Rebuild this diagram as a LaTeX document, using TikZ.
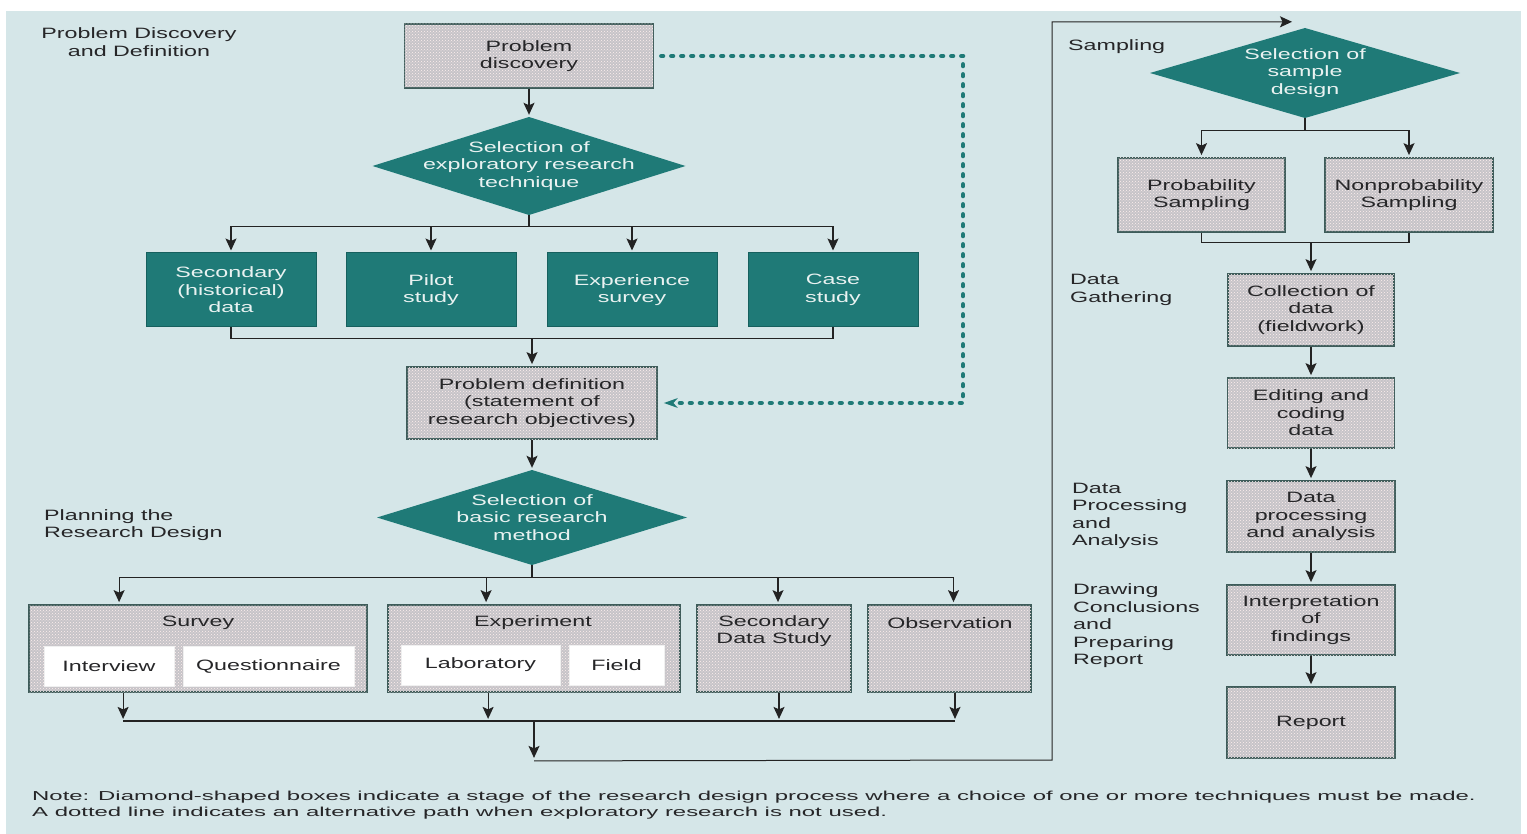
\documentclass[tikz,border=0pt]{standalone}
\usepackage{fontspec}
\setmainfont{Liberation Sans}[FakeStretch=1.55]
\newfontfamily\notefont{Liberation Sans}[FakeStretch=1.84]
\usetikzlibrary{arrows.meta,calc,patterns}

\definecolor{bgblue}{RGB}{213,230,232}
\definecolor{tealfill}{RGB}{31,122,119}
\definecolor{tealedge}{RGB}{22,96,94}
\definecolor{boxgray}{RGB}{198,196,200}
\definecolor{boxedge}{RGB}{62,92,90}
\definecolor{inktext}{RGB}{38,38,40}
\definecolor{linecol}{RGB}{35,35,35}

\begin{document}
\begin{tikzpicture}[x=1pt,y=-1pt,
  every node/.style={font=\fontsize{15}{17.5}\selectfont, align=center, inner sep=0pt, text=inktext},
  graybox/.style={draw=boxedge, line width=1.8pt, fill=boxgray,
    postaction={pattern=crosshatch dots, pattern color=white!75!pink}},
  tealbox/.style={draw=tealedge, line width=1pt, fill=tealfill, text=white!90!tealfill},
  choice/.style={rectangle, text=white!90!tealfill,
    path picture={\fill[tealfill] (path picture bounding box.north) -- (path picture bounding box.east)
      -- (path picture bounding box.south) -- (path picture bounding box.west) -- cycle;}},
  innerbox/.style={fill=white, draw=white!88!gray, line width=0.6pt, minimum height=40},
  stagelabel/.style={align=left, anchor=west},
  line/.style={draw=linecol, line width=1.2pt},
  arr/.style={line, -{Stealth[length=12pt,width=11pt,inset=2.5pt]}, shorten >=2pt},
  dotline/.style={draw=tealfill, line width=4.6pt, line cap=round, dash pattern=on 1.6pt off 8.4pt,
    -{Stealth[length=14pt,width=10pt,inset=4.5pt,line width=0pt]}, shorten <=7pt, shorten >=6pt}
]
\useasboundingbox (0,0) rectangle (1527,834);
\fill[white] (0,0) rectangle (1527,834);
\fill[bgblue] (6,11) rectangle (1521,834);

% ---------- problem discovery and definition ----------
\node (lab-disc) at (139,42) {Problem Discovery\\and Definition};

\node[graybox, minimum width=249, minimum height=64] (pdisc) at (529,56) {Problem\\discovery};
\node[choice, minimum width=313, minimum height=98] (dexp) at (529,166) {Selection of\\exploratory research\\technique};

\node[tealbox, minimum width=170, minimum height=74] (secd)  at (231,290) {Secondary\\(historical)\\data};
\node[tealbox, minimum width=170, minimum height=74] (pilot) at (431,290) {Pilot\\study};
\node[tealbox, minimum width=170, minimum height=74] (expsv) at (632,290) {Experience\\survey};
\node[tealbox, minimum width=170, minimum height=74] (case)  at (833,290) {Case\\study};

\node[graybox, minimum width=250, minimum height=72] (pdef) at (532,403) {Problem definition\\(statement of\\research objectives)};

% ---------- planning the research design ----------
\node[stagelabel] (lab-plan) at (44,525) {Planning the\\Research Design};
\node[choice, minimum width=310, minimum height=95] (dbasic) at (532,517.5) {Selection of\\basic research\\method};

\node[graybox, minimum width=338, minimum height=87] (survey)   at (198,648.5) {};
\node[graybox, minimum width=292, minimum height=87] (experim)  at (534,648.5) {};
\node[graybox, minimum width=154, minimum height=87] (secstudy) at (774,648.5) {};
\node[graybox, minimum width=163, minimum height=87] (observ)   at (949.5,648.5) {};

\node (survey-t)  at (198,623) {Survey};
\node (experim-t) at (533,623) {Experiment};
\node[anchor=north] (secstudy-t) at (774,615) {Secondary\\Data Study};
\node (observ-t)  at (950,623) {Observation};

\node[innerbox, minimum width=130] (interview) at (109,666)   {Interview};
\node[innerbox, minimum width=171] (quest)     at (268.5,666) {Questionnaire};
\node[innerbox, minimum width=159] (lab)       at (480.5,665) {Laboratory};
\node[innerbox, minimum width=95]  (field)     at (616.5,665) {Field};

% ---------- sampling, data gathering, processing, report ----------
\node[stagelabel] (lab-samp) at (1068,47)  {Sampling};
\node[stagelabel] (lab-gath) at (1070,290) {Data\\Gathering};
\node[stagelabel] (lab-proc) at (1072,516) {Data\\Processing\\and\\Analysis};
\node[stagelabel] (lab-conc) at (1073,626) {Drawing\\Conclusions\\and\\Preparing\\Report};

\node[choice, minimum width=310, minimum height=90] (dsamp) at (1305,73) {Selection of\\sample\\design};
\node[graybox, minimum width=167, minimum height=74] (prob)    at (1201.5,195) {Probability\\Sampling};
\node[graybox, minimum width=168, minimum height=74] (nonprob) at (1409,195)   {Nonprobability\\Sampling};
\node[graybox, minimum width=166, minimum height=72] (collect) at (1311,310)   {Collection of\\data\\(fieldwork)};
\node[graybox, minimum width=167, minimum height=70] (edit)    at (1311,413)   {Editing and\\coding\\data};
\node[graybox, minimum width=168, minimum height=71] (proc)    at (1311,516.5) {Data\\processing\\and analysis};
\node[graybox, minimum width=168, minimum height=70] (interp)  at (1311,620)   {Interpretation\\of\\findings};
\node[graybox, minimum width=168, minimum height=71] (report)  at (1311,722.5) {Report};

% ---------- note ----------
\node[anchor=west, align=left, font=\notefont\fontsize{13}{16}\selectfont] (note) at (32,805)
  {Note: Diamond-shaped boxes indicate a stage of the research design process where a choice of one or more techniques must be made.\\
   A dotted line indicates an alternative path when exploratory research is not used.};

% ---------- connectors: left part ----------
\draw[arr] (pdisc.south) -- (dexp.north);
\draw[line] (dexp.south) -- ++(0,11) coordinate (fan1);
\foreach \b in {secd,pilot,expsv,case} \draw[arr] (fan1) -| (\b.north);
\draw[line] (secd.south) -- ++(0,11) coordinate (mrg1) -| (case.south);
\draw[arr] (pdef.north |- mrg1) -- (pdef.north);
\draw[arr] (pdef.south) -- (dbasic.north);

\draw[dotline] (pdisc.east) -- (963,56) -- (963,403) -- (pdef.east);

\coordinate (survey-in)  at ($(survey.north west)+(91,0)$);
\coordinate (experim-in) at ($(experim.north west)+(99,0)$);
\coordinate (secstudy-in) at ($(secstudy.north)+(4,0)$);
\coordinate (observ-in)  at ($(observ.north)+(4,0)$);
\draw[line] (dbasic.south) -- ++(0,12) coordinate (fan2);
\foreach \b in {survey,experim,secstudy,observ} \draw[arr] (fan2) -| (\b-in);

\coordinate (survey-out)   at ($(survey.south west)+(95,0)$);
\coordinate (experim-out)  at ($(experim.south west)+(101,0)$);
\coordinate (secstudy-out) at ($(secstudy.south)+(5,0)$);
\coordinate (observ-out)   at ($(observ.south)+(5.5,0)$);
\foreach \b in {survey,experim,secstudy,observ} \draw[arr, shorten >=0pt] (\b-out) -- ++(0,26);
\draw[line] ($(survey-out)+(0,28)$) -- ($(observ-out)+(0,28)$);
\coordinate (mrg2) at ($(experim.south)+(0,28)$);
\coordinate (mrg3) at ($(experim.south)+(0,68)$);
\draw[arr, shorten >=0pt] (mrg2) -- ($(mrg3)+(0,-3)$);

% route over to the sampling stage
\coordinate (samp-in) at ($(dsamp.north)+(-13,-6)$);
\draw[arr, line width=1pt, shorten >=0pt] (mrg3) -- (1052,760) -- (1052,22) -- (samp-in);

% ---------- connectors: right part ----------
\draw[line] (dsamp.south) -- ++(0,12) coordinate (fan3);
\draw[arr] (fan3) -| (prob.north);
\draw[arr] (fan3) -| (nonprob.north);
\draw[line] (prob.south) -- ++(0,10) coordinate (mrg4) -| (nonprob.south);
\draw[arr] (collect.north |- mrg4) -- (collect.north);
\draw[arr] (collect.south) -- (edit.north);
\draw[arr] (edit.south) -- (proc.north);
\draw[arr] (proc.south) -- (interp.north);
\draw[arr] (interp.south) -- (report.north);
\end{tikzpicture}
\end{document}
